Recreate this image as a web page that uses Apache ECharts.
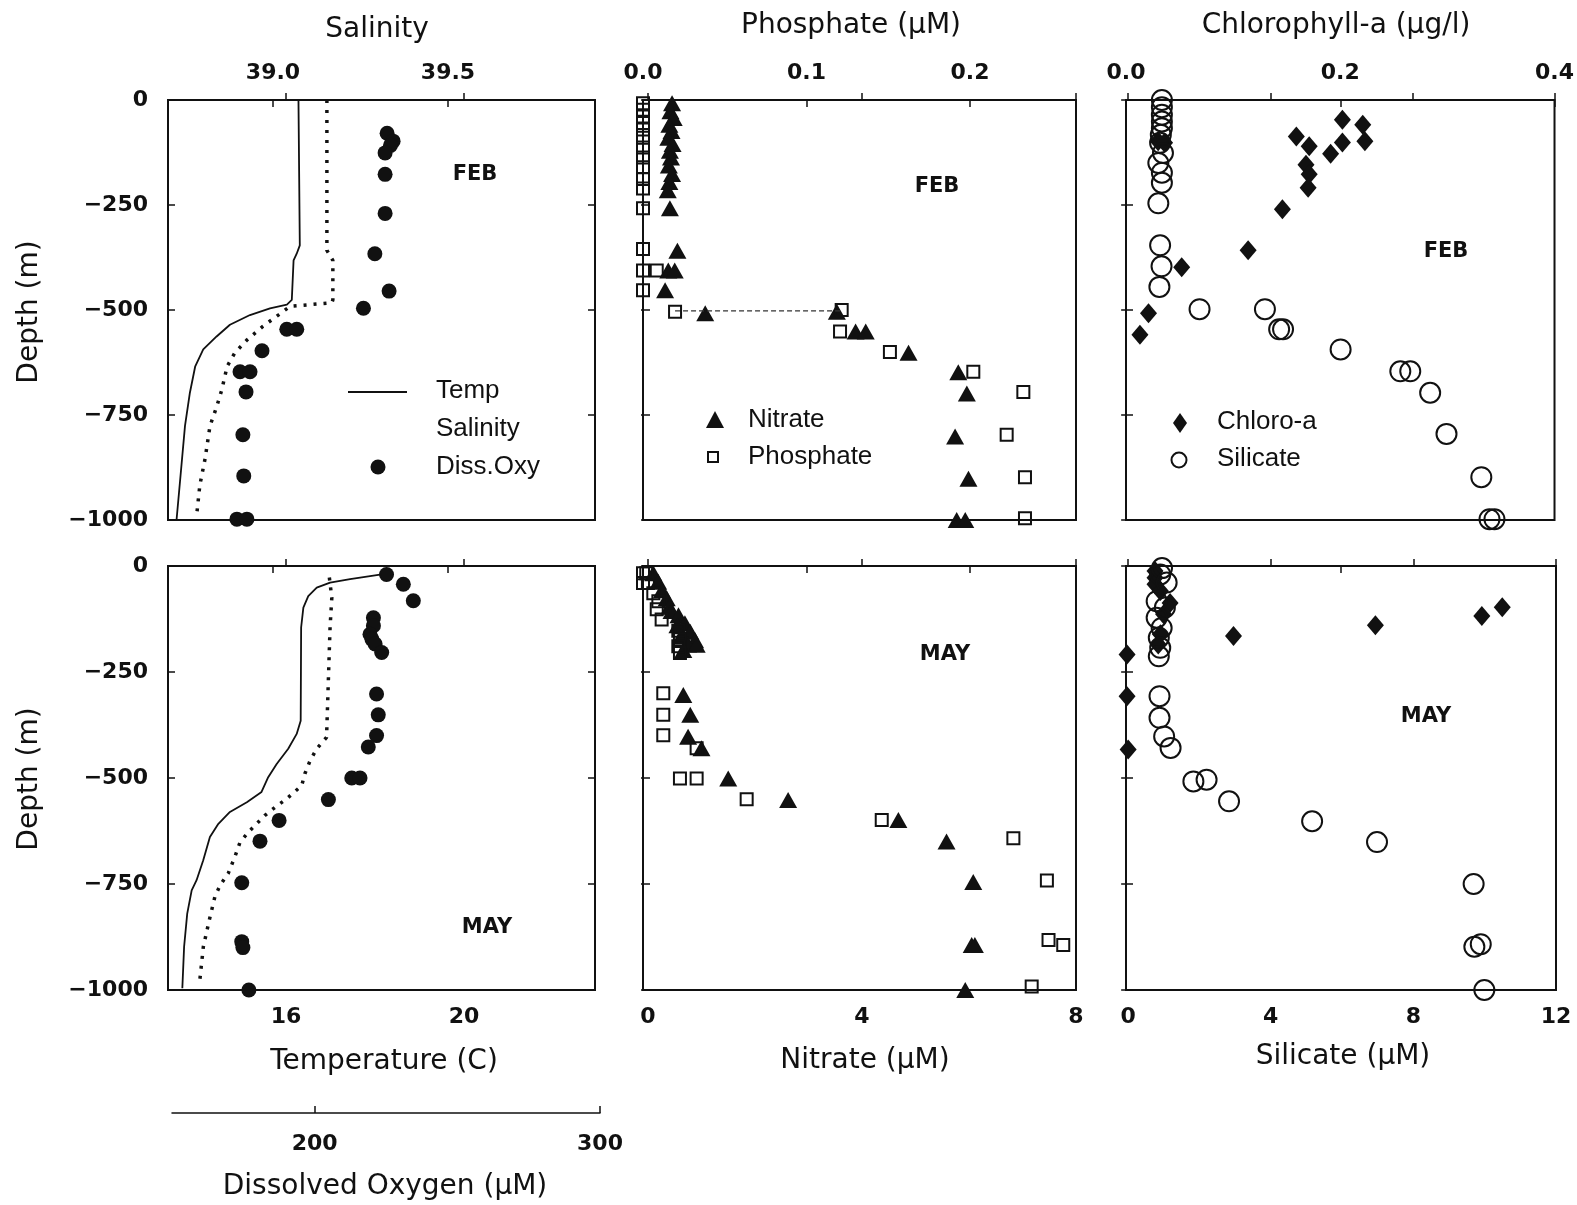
<!DOCTYPE html>
<html><head><meta charset="utf-8">
<script src="https://cdn.jsdelivr.net/npm/echarts@6/dist/echarts.min.js"></script>
<style>html,body{margin:0;padding:0;background:#fff}#c{width:1577px;height:1205px}</style>
</head><body><div id="c"></div>
<script>
// ---------------- DATA (value, depth in m) ----------------
// tick values
const depthTicks = [0, -250, -500, -750, -1000];
const salinityTicks = [39.0, 39.5];
const temperatureTicks = [16, 20];
const phosphateTicks = [0, 0.1, 0.2];
const nitrateTicks = [0, 4, 8];
const chlorophyllTicks = [0, 0.2, 0.4];
const silicateTicks = [0, 4, 8, 12];
const oxygenTicks = [200, 300];

// FEB column 1
const febTemp = [[16.28,0],[16.31,-346],[16.24,-366],[16.17,-382],[16.13,-476],[16.02,-487],[15.64,-496],[15.19,-512],[14.74,-535],[14.44,-563],[14.14,-594],[13.96,-634],[13.84,-697],[13.73,-776],[13.63,-894],[13.54,-1000]];
const febSal = [[39.154,0],[39.154,-358],[39.171,-382],[39.171,-476],[39.168,-483],[39.049,-491],[39.015,-512],[38.971,-539],[38.926,-571],[38.891,-602],[38.869,-634],[38.854,-689],[38.84,-728],[38.82,-776],[38.806,-854],[38.791,-917],[38.783,-980]];
const febOxy = [[225.3,-79],[227.4,-98],[226.5,-108],[224.6,-126],[224.6,-177],[224.6,-270],[221,-366],[226,-455],[217,-496],[190.1,-546],[193.6,-546],[181.4,-597],[173.7,-647],[177.2,-647],[175.8,-695],[174.7,-797],[175,-895],[172.6,-998],[176.1,-998]];
// MAY column 1
const mayTemp = [[18.15,-20],[17.44,-31],[16.99,-39],[16.69,-51],[16.50,-71],[16.39,-98],[16.34,-145],[16.33,-365],[16.24,-396],[16.05,-431],[15.79,-467],[15.60,-498],[15.45,-533],[15.12,-557],[14.74,-580],[14.48,-608],[14.29,-639],[14.14,-694],[13.99,-741],[13.88,-765],[13.78,-820],[13.71,-898],[13.67,-996]];
const maySal = [[39.161,-27],[39.168,-75],[39.163,-145],[39.153,-404],[39.125,-431],[39.106,-459],[39.091,-490],[39.082,-518],[39.039,-549],[39.006,-569],[38.977,-588],[38.934,-624],[38.906,-651],[38.891,-686],[38.872,-725],[38.849,-753],[38.834,-780],[38.818,-835],[38.801,-898],[38.791,-976]];
const mayOxy = [[225.1,-20],[231.0,-43],[234.5,-82],[220.5,-122],[220.5,-141],[219.3,-161],[220,-173],[221.1,-184],[223.4,-204],[221.6,-302],[222.2,-351],[221.6,-400],[218.7,-427],[212.9,-500],[215.8,-500],[204.7,-551],[187.4,-600],[180.7,-649],[174.3,-747],[174.3,-886],[174.7,-900],[176.8,-1000]];

// FEB column 2
const febNit = [[0.45,-8],[0.42,-27],[0.48,-43],[0.40,-59],[0.44,-74],[0.38,-90],[0.46,-105],[0.41,-121],[0.43,-137],[0.39,-156],[0.45,-176],[0.40,-195],[0.37,-215],[0.41,-258],[0.55,-359],[0.38,-406],[0.50,-406],[0.32,-453],[1.07,-508],[3.53,-504],[3.88,-551],[4.07,-551],[4.87,-602],[5.80,-648],[5.96,-699],[5.74,-801],[5.99,-902],[5.77,-1000],[5.93,-1000]];
const febPho = [[0,-8],[0,-23],[0,-39],[0,-55],[0,-70],[0,-90],[0,-113],[0,-137],[0,-160],[0,-188],[0,-211],[0,-258],[0,-355],[0,-406],[0.0084,-406],[0,-453],[0.0196,-504],[0.1215,-500],[0.1205,-551],[0.151,-600],[0.202,-647],[0.2326,-695],[0.2224,-797],[0.2336,-898],[0.2336,-996]];
const febPhoLink = [[0.0196,-502],[0.1215,-502]];
// MAY column 2
const mayNit = [[0.10,-17],[0.19,-37],[0.26,-57],[0.35,-76],[0.40,-96],[0.44,-106],[0.57,-116],[0.69,-135],[0.55,-140],[0.79,-155],[0.62,-165],[0.88,-175],[0.75,-185],[0.91,-186],[0.66,-198],[0.66,-304],[0.79,-351],[0.75,-403],[1.0,-430],[1.50,-501],[2.62,-552],[4.68,-599],[5.58,-650],[6.08,-745],[6.05,-894],[6.11,-894],[5.93,-1000]];
const mayPho = [[0,-17],[0.002,-17],[0,-40],[0.003,-40],[0.0063,-64],[0.0094,-83],[0.0084,-102],[0.0114,-126],[0.0216,-153],[0.0226,-173],[0.0216,-189],[0.0226,-205],[0.0124,-300],[0.0124,-351],[0.0124,-399],[0.0328,-430],[0.0226,-501],[0.0328,-501],[0.0634,-550],[0.146,-599],[0.2265,-642],[0.247,-742],[0.248,-882],[0.257,-894],[0.2377,-992]];

// FEB column 3
const febChl = [[0.030,-98],[0.036,-102],[0.159,-87],[0.171,-110],[0.191,-128],[0.202,-47],[0.202,-101],[0.221,-59],[0.223,-98],[0.168,-154],[0.171,-177],[0.170,-209],[0.146,-260],[0.114,-358],[0.052,-398],[0.021,-508],[0.013,-559]];
const febSil = [[0.95,0],[0.95,-17],[0.95,-35],[0.95,-51],[0.95,-67],[0.92,-83],[0.90,-102],[0.98,-126],[0.85,-150],[0.95,-173],[0.95,-197],[0.85,-246],[0.90,-346],[0.94,-396],[0.88,-445],[2.01,-498],[3.85,-498],[4.25,-546],[4.36,-546],[5.98,-594],[7.66,-646],[7.94,-646],[8.50,-697],[8.96,-795],[9.94,-898],[10.17,-998],[10.31,-998]];
// MAY column 3
const mayChl = [[0.027,-12],[0.027,-28],[0.027,-43],[0.032,-59],[0.041,-87],[0.035,-114],[0.032,-161],[0.030,-185],[0.350,-97],[0.331,-118],[0.232,-140],[0.100,-165],[0.001,-209],[0.001,-307],[0.002,-433]];
const maySil = [[0.95,-5],[0.90,-20],[1.08,-39],[0.80,-83],[1.03,-98],[0.80,-122],[0.94,-146],[0.86,-169],[0.90,-193],[0.86,-213],[0.88,-307],[0.88,-358],[1.01,-402],[1.19,-429],[1.83,-508],[2.20,-504],[2.83,-555],[5.16,-602],[6.98,-651],[9.69,-750],[9.71,-898],[9.89,-892],[9.99,-1000]];

// ---------------- LAYOUT / STYLE ----------------
const INK = '#111';
const TFAM = '"DejaVu Sans", sans-serif';
const TICKFONT = {fontFamily: TFAM, fontSize: 22, fontWeight: 'bold', color: INK};
const COLS = [{left:168,width:427},{left:643,width:433},{left:1126,width:430}];
const ROWS = [{top:100,height:420},{top:566,height:424}];
const SCALES = [
  {top:{min:38.70,max:39.92,ticks:salinityTicks,dec:1}, bot:{min:13.348,max:22.944,ticks:temperatureTicks,dec:0}},
  {top:{min:0,max:0.2648,ticks:phosphateTicks,dec:1}, bot:{min:-0.093,max:8,ticks:nitrateTicks,dec:0}},
  {top:{min:0,max:0.4,ticks:chlorophyllTicks,dec:1}, bot:{min:-0.06,max:12,ticks:silicateTicks,dec:0}}
];

const grids = [], xAxes = [], yAxes = [], series = [];
const tickStyle = {color: INK, width: 1.5};

function mkX(g, pos, sc, showLabel) {
  return {gridIndex:g, type:'value', position:pos, min:sc.min, max:sc.max,
    axisLine:{show:false}, splitLine:{show:false},
    axisTick:{show:true, inside:true, length:7, customValues:sc.ticks, lineStyle:tickStyle},
    axisLabel:Object.assign({show:showLabel, customValues:sc.ticks, showMinLabel:true, showMaxLabel:true,
      margin:16, formatter:v=>Number(v).toFixed(sc.dec)}, TICKFONT)};
}
function mkY(g, pos, showLabel) {
  return {gridIndex:g, type:'value', position:pos, min:-1000, max:0, interval:250,
    axisLine:{show:false}, splitLine:{show:false},
    axisTick:{show:true, inside:true, length:7, lineStyle:tickStyle},
    axisLabel:Object.assign({show:showLabel, margin:20,
      formatter:v=> v<0 ? '\u2212'+Math.abs(v) : String(v)}, TICKFONT)};
}

const idx = {};
for (let r = 0; r < 2; r++) {
  idx[r] = {};
  for (let c = 0; c < 3; c++) {
    const g = grids.length;
    grids.push({left:COLS[c].left, width:COLS[c].width, top:ROWS[r].top, height:ROWS[r].height,
      show:true, borderColor:INK, borderWidth:2, backgroundColor:'transparent'});
    const o = {};
    o.xt = xAxes.length; xAxes.push(mkX(g, 'top', SCALES[c].top, r === 0));
    o.xb = xAxes.length; xAxes.push(mkX(g, 'bottom', SCALES[c].bot, r === 1));
    if (c === 0) {
      o.xo = xAxes.length;
      xAxes.push({gridIndex:g, type:'value', min:148.42, max:298.25, show:false});
    }
    o.yl = yAxes.length; yAxes.push(mkY(g, 'left', c === 0));
    yAxes.push(mkY(g, 'right', false));
    idx[r][c] = o;
  }
}
// separate Dissolved Oxygen axis
const gO = grids.length;
grids.push({left:172, width:428, top:1112, height:1, show:false});
xAxes.push({gridIndex:gO, type:'value', position:'bottom', min:150, max:300,
  axisLine:{show:true, lineStyle:{color:INK, width:1.5}}, splitLine:{show:false},
  axisTick:{show:true, inside:true, length:7, customValues:oxygenTicks, lineStyle:tickStyle},
  axisLabel:Object.assign({customValues:oxygenTicks, showMinLabel:true, showMaxLabel:true, margin:20}, TICKFONT)});
yAxes.push({gridIndex:gO, type:'value', show:false, min:0, max:1});

function line(name, data, xi, yi, dotted) {
  series.push({name, type:'line', data, xAxisIndex:xi, yAxisIndex:yi, symbol:'none', silent:true, clip:false,
    lineStyle: dotted ? {color:INK, width:3.5, type:[3,7], cap:'butt', opacity:1} : {color:INK, width:1.8, opacity:1}});
}
function scat(name, data, xi, yi, symbol, size, open) {
  series.push({name, type:'scatter', data, xAxisIndex:xi, yAxisIndex:yi, symbol, symbolSize:size, silent:true, clip:false,
    emphasis:{disabled:true},
    itemStyle: open ? {color:'rgba(0,0,0,0)', borderColor:INK, borderWidth:2, opacity:1} : {color:INK, opacity:1}});
}

// Column 1
line('Temp', febTemp, idx[0][0].xb, idx[0][0].yl, false);
line('Salinity', febSal, idx[0][0].xt, idx[0][0].yl, true);
scat('Diss.Oxy', febOxy, idx[0][0].xo, idx[0][0].yl, 'circle', 15, false);
line('Temp May', mayTemp, idx[1][0].xb, idx[1][0].yl, false);
line('Salinity May', maySal, idx[1][0].xt, idx[1][0].yl, true);
scat('Diss.Oxy May', mayOxy, idx[1][0].xo, idx[1][0].yl, 'circle', 15, false);
// Column 2
series.push({name:'Phosphate link', type:'line', data:febPhoLink, xAxisIndex:idx[0][1].xt, yAxisIndex:idx[0][1].yl,
  symbol:'none', silent:true, lineStyle:{color:'#333', width:1.2, type:[5,3]}});
scat('Nitrate', febNit, idx[0][1].xb, idx[0][1].yl, 'triangle', [18,16], false);
scat('Phosphate', febPho, idx[0][1].xt, idx[0][1].yl, 'rect', 12, true);
scat('Nitrate May', mayNit, idx[1][1].xb, idx[1][1].yl, 'triangle', [18,16], false);
scat('Phosphate May', mayPho, idx[1][1].xt, idx[1][1].yl, 'rect', 12, true);
// Column 3
scat('Chloro-a', febChl, idx[0][2].xt, idx[0][2].yl, 'diamond', [17,20], false);
scat('Silicate', febSil, idx[0][2].xb, idx[0][2].yl, 'circle', 20, true);
scat('Chloro-a May', mayChl, idx[1][2].xt, idx[1][2].yl, 'diamond', [17,20], false);
scat('Silicate May', maySil, idx[1][2].xb, idx[1][2].yl, 'circle', 20, true);

// ---------------- TEXT / LEGENDS ----------------
function txt(text, x, y, font, align, rot) {
  const e = {type:'text', x, y, silent:true, z:100,
    style:{text, x:0, y:0, font, fill:INK, align:align||'center', textAlign:align||'center',
      verticalAlign:'middle', textVerticalAlign:'middle'}};
  if (rot) e.rotation = rot;
  return e;
}
const TITLE = '28px "DejaVu Sans", sans-serif';
const LEG = '26px "Liberation Sans", Arial, sans-serif';
const MON = 'bold 21px "DejaVu Sans", sans-serif';
const graphic = [
  txt('Salinity', 377, 30, TITLE),
  txt('Phosphate (\u00B5M)', 851, 26, TITLE),
  txt('Chlorophyll-a (\u00B5g/l)', 1336, 26, TITLE),
  txt('Temperature (C)', 384, 1062, TITLE),
  txt('Nitrate (\u00B5M)', 865, 1061, TITLE),
  txt('Silicate (\u00B5M)', 1343, 1057, TITLE),
  txt('Dissolved Oxygen (\u00B5M)', 385, 1187, TITLE),
  txt('Depth (m)', 30, 312, TITLE, 'center', Math.PI/2),
  txt('Depth (m)', 30, 779, TITLE, 'center', Math.PI/2),
  txt('FEB', 475, 175, MON), txt('FEB', 937, 187, MON), txt('FEB', 1446, 252, MON),
  txt('MAY', 487, 928, MON), txt('MAY', 945, 655, MON), txt('MAY', 1426, 717, MON),
  // legend col 1
  {type:'line', silent:true, shape:{x1:348,y1:392,x2:407,y2:392}, style:{stroke:INK, lineWidth:1.8}},
  txt('Temp', 436, 391, LEG, 'left'),
  txt('Salinity', 436, 429, LEG, 'left'),
  {type:'circle', silent:true, shape:{cx:378, cy:467, r:7.5}, style:{fill:INK}},
  txt('Diss.Oxy', 436, 467, LEG, 'left'),
  // legend col 2
  {type:'polygon', silent:true, shape:{points:[[715,411],[706,428],[724,428]]}, style:{fill:INK}},
  txt('Nitrate', 748, 420, LEG, 'left'),
  {type:'rect', silent:true, shape:{x:708, y:452, width:10, height:10}, style:{fill:'none', stroke:INK, lineWidth:2}},
  txt('Phosphate', 748, 457, LEG, 'left'),
  // legend col 3
  {type:'polygon', silent:true, shape:{points:[[1180,413],[1187,423],[1180,433],[1173,423]]}, style:{fill:INK}},
  txt('Chloro-a', 1217, 422, LEG, 'left'),
  {type:'circle', silent:true, shape:{cx:1179, cy:460, r:7.5}, style:{fill:'none', stroke:INK, lineWidth:2}},
  txt('Silicate', 1217, 459, LEG, 'left')
];

const chart = echarts.init(document.getElementById('c'), null, {renderer:'canvas'});
chart.setOption({
  animation:false,
  backgroundColor:'#fff',
  grid:grids, xAxis:xAxes, yAxis:yAxes, series, graphic
});
</script></body></html>
